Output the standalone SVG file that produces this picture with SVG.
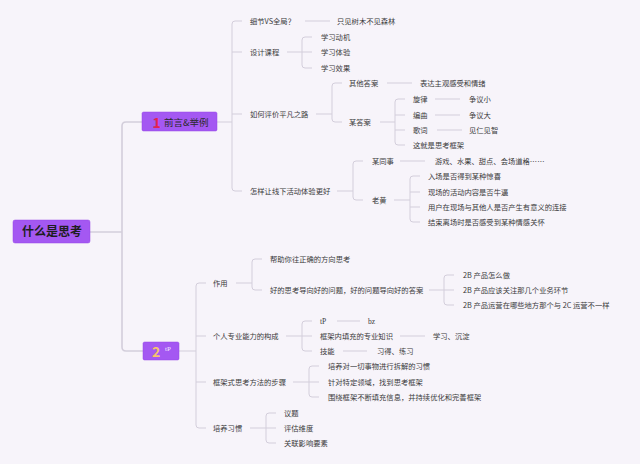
<svg xmlns="http://www.w3.org/2000/svg" width="640" height="464" viewBox="0 0 640 464">
<style>
.c{stroke:#d3cedb;stroke-width:1;fill:none}
.r{stroke:#d3cedb;stroke-width:1.6;fill:none}
.t{font-family:"Noto Sans CJK SC","Noto Sans",sans-serif;font-size:7.3px;fill:#3a3a3a}
.s{font-family:"Liberation Serif",serif;font-size:7.5px;fill:#3a3a3a}
.n{fill:#a458f2;stroke:#9747e6;stroke-width:0.5}
</style>
<rect width="640" height="464" fill="#f7f4fa"/>
<g id="connectors">
<path class="r" d="M90,232 H122 M143,122 H126 Q122,122 122,126 V347 Q122,351 126,351 H143"/>
<path class="c" d="M217,122 H232 M242,21 H235 Q232,21 232,24 V188 Q232,191 235,191 H242 M232,52 H242 M232,114 H242"/>
<path class="c" d="M305,21 H330"/>
<path class="c" d="M287,52 H312 M312,37 H305 Q302,37 302,40 V65 Q302,68 305,68 H312"/>
<path class="c" d="M316,114 H332 M342,83 H335 Q332,83 332,86 V119 Q332,122 335,122 H342"/>
<path class="c" d="M387,83 H412"/>
<path class="c" d="M380,122 H395 M405,99 H398 Q395,99 395,102 V142 Q395,145 398,145 H405 M395,115 H405 M395,130 H405"/>
<path class="c" d="M435,99 H460 M435,115 H460 M437,130 H462"/>
<path class="c" d="M337,191 H353 M363,161 H356 Q353,161 353,164 V197 Q353,200 356,200 H363"/>
<path class="c" d="M400,161 H425"/>
<path class="c" d="M394,200 H410 M420,176 H413 Q410,176 410,179 V219 Q410,222 413,222 H420 M410,192 H420 M410,207 H420"/>
<path class="c" d="M179,351 H196 M206,283 H199 Q196,283 196,286 V425 Q196,428 199,428 H206 M196,336 H206 M196,382 H206"/>
<path class="c" d="M236,283 H252 M262,259 H255 Q252,259 252,262 V287 Q252,290 255,290 H262"/>
<path class="c" d="M429,290 H454 M454,275 H447 Q444,275 444,278 V302 Q444,305 447,305 H454"/>
<path class="c" d="M286,336 H312 M312,321 H305 Q302,321 302,324 V348 Q302,351 305,351 H312"/>
<path class="c" d="M337,321 H360 M400,336 H425 M343,351 H367"/>
<path class="c" d="M293,382 H319 M319,366 H312 Q309,366 309,369 V394 Q309,397 312,397 H319"/>
<path class="c" d="M250,428 H276 M276,413 H269 Q266,413 266,416 V440 Q266,443 269,443 H276"/>
</g>
<g id="root">
<rect class="n" x="13" y="220" width="77" height="23" rx="2"/>
<text x="52" y="236.3" text-anchor="middle" font-family="Noto Sans CJK SC,sans-serif" font-size="12" font-weight="bold" fill="#1e1e1e">什么是思考</text>
</g>
<g id="node1">
<rect class="n" x="142" y="112" width="75" height="19" rx="1.5"/>
<text x="152.5" y="127.5" font-family="Noto Sans CJK SC,sans-serif" font-size="14" font-weight="bold" fill="#e3234f">1</text>
<text x="164" y="125.5" font-family="Noto Sans CJK SC,sans-serif" font-size="9.5" fill="#2a2a2a">前言&amp;举例</text>
</g>
<g id="node2">
<rect class="n" x="143" y="342" width="36" height="18" rx="1.5"/>
<text x="152" y="357" font-family="Noto Sans CJK SC,sans-serif" font-size="14" font-weight="bold" fill="#f6c26c">2</text>
<text x="165" y="351" font-family="Liberation Serif,serif" font-size="7" fill="#f3e9ff">tP</text>
</g>
<g id="branch1">
<g id="n-xijie"><text class="t" x="250" y="23.6">细节VS全局？</text></g>
<g id="n-zhijian"><text class="t" x="337" y="23.6">只见树木不见森林</text></g>
<g id="n-sheji"><text class="t" x="250" y="54.6">设计课程</text></g>
<g id="n-dongji"><text class="t" x="321" y="39.6">学习动机</text></g>
<g id="n-tiyan"><text class="t" x="321" y="54.6">学习体验</text></g>
<g id="n-xiaoguo"><text class="t" x="321" y="70.6">学习效果</text></g>
<g id="n-pingjia"><text class="t" x="250" y="116.6">如何评价平凡之路</text></g>
<g id="n-qita"><text class="t" x="349" y="85.6">其他答案</text></g>
<g id="n-biaoda"><text class="t" x="420" y="85.6">表达主观感受和情绪</text></g>
<g id="n-mou"><text class="t" x="349" y="124.6">某答案</text></g>
<g id="n-xuanlv"><text class="t" x="413" y="101.6">旋律</text></g>
<g id="n-bianqu"><text class="t" x="413" y="117.6">编曲</text></g>
<g id="n-geci"><text class="t" x="413" y="132.6">歌词</text></g>
<g id="n-kuangjia"><text class="t" x="413" y="147.6">这就是思考框架</text></g>
<g id="n-xiao"><text class="t" x="469" y="101.6">争议小</text></g>
<g id="n-da"><text class="t" x="469" y="117.6">争议大</text></g>
<g id="n-jianren"><text class="t" x="469" y="132.6">见仁见智</text></g>
<g id="n-xianxia"><text class="t" x="250" y="193.6">怎样让线下活动体验更好</text></g>
<g id="n-tongshi"><text class="t" x="372" y="163.6">某同事</text></g>
<g id="n-youxi"><text class="t" x="435" y="163.6">游戏、水果、甜点、会场道格……</text></g>
<g id="n-laohuang"><text class="t" x="372" y="202.6">老黄</text></g>
<g id="n-ruchang"><text class="t" x="428" y="178.6">入场是否得到某种惊喜</text></g>
<g id="n-xianchang"><text class="t" x="428" y="194.6">现场的活动内容是否牛逼</text></g>
<g id="n-yonghu"><text class="t" x="428" y="209.6">用户在现场与其他人是否产生有意义的连接</text></g>
<g id="n-jieshu"><text class="t" x="428" y="224.6">结束离场时是否感受到某种情感关怀</text></g>
</g>
<g id="branch2">
<g id="n-zuoyong"><text class="t" x="213" y="285.6">作用</text></g>
<g id="n-bangzhu"><text class="t" x="270" y="261.6">帮助你往正确的方向思考</text></g>
<g id="n-haode"><text class="t" x="270" y="292.6">好的思考导向好的问题，好的问题导向好的答案</text></g>
<g id="n-2b1"><text class="t" x="463" y="277.6">2B 产品怎么做</text></g>
<g id="n-2b2"><text class="t" x="463" y="292.6">2B 产品应该关注那几个业务环节</text></g>
<g id="n-2b3"><text class="t" x="463" y="307.6">2B 产品运营在哪些地方那个与 2C 运营不一样</text></g>
<g id="n-geren"><text class="t" x="213" y="338.6">个人专业能力的构成</text></g>
<g id="n-tp"><text class="s" x="320" y="323.6">tP</text></g>
<g id="n-bz"><text class="s" x="368" y="323.6">bz</text></g>
<g id="n-tianchong"><text class="t" x="320" y="338.6">框架内填充的专业知识</text></g>
<g id="n-xuexi"><text class="t" x="433" y="338.6">学习、沉淀</text></g>
<g id="n-jineng"><text class="t" x="320" y="353.6">技能</text></g>
<g id="n-xide"><text class="t" x="377" y="353.6">习得、练习</text></g>
<g id="n-buzhou"><text class="t" x="213" y="384.6">框架式思考方法的步骤</text></g>
<g id="n-chaijie"><text class="t" x="328" y="368.6">培养对一切事物进行拆解的习惯</text></g>
<g id="n-zhendui"><text class="t" x="328" y="384.6">针对特定领域，找到思考框架</text></g>
<g id="n-weirao"><text class="t" x="328" y="399.6">围绕框架不断填充信息，并持续优化和完善框架</text></g>
<g id="n-xiguan"><text class="t" x="213" y="430.6">培养习惯</text></g>
<g id="n-yiti"><text class="t" x="284" y="415.6">议题</text></g>
<g id="n-weidu"><text class="t" x="284" y="430.6">评估维度</text></g>
<g id="n-guanlian"><text class="t" x="284" y="445.6">关联影响要素</text></g>
</g>
</svg>
